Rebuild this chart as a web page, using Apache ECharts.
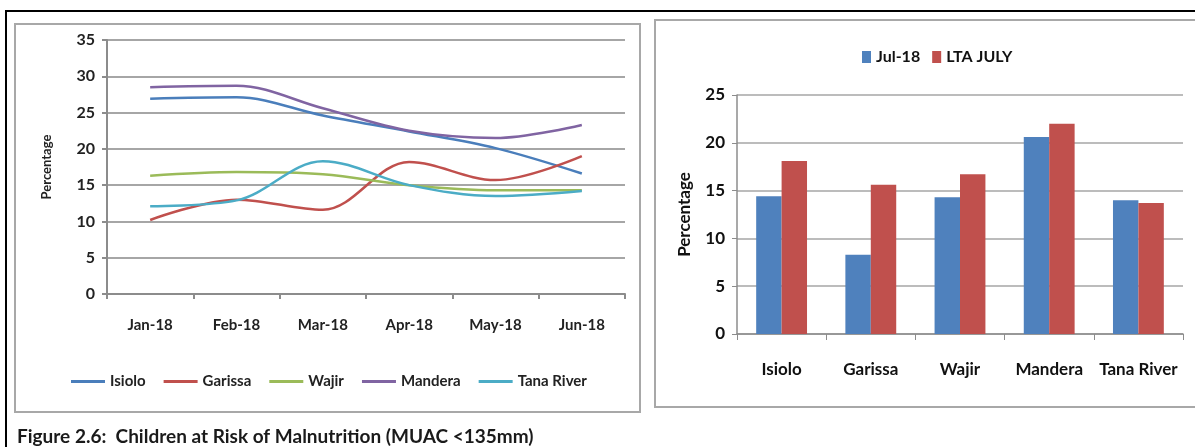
<!DOCTYPE html>
<html>
<head>
<meta charset="utf-8">
<script src="https://cdn.jsdelivr.net/npm/echarts@6/dist/echarts.min.js"></script>
<style>
  html, body { margin: 0; padding: 0; background: #fff; }
  #chart { width: 1195px; height: 447px; }
</style>
</head>
<body>
<div id="chart"></div>
<script>
// left chart: monthly trend
const months = ['Jan-18', 'Feb-18', 'Mar-18', 'Apr-18', 'May-18', 'Jun-18'];
const isiolo = [26.9, 27.1, 24.6, 22.4, 20.1, 16.6];
const garissa = [10.2, 13.0, 11.6, 18.2, 15.7, 19.0];
const wajir = [16.3, 16.8, 16.5, 15.0, 14.3, 14.3];
const mandera = [28.5, 28.7, 25.6, 22.5, 21.5, 23.3];
const tanaRiver = [12.1, 12.9, 18.3, 15.0, 13.5, 14.2];
const lineTicks = [0, 5, 10, 15, 20, 25, 30, 35];

// right chart: July comparison
const counties = ['Isiolo', 'Garissa', 'Wajir', 'Mandera', 'Tana River'];
const jul18 = [14.4, 8.3, 14.3, 20.6, 14.0];
const ltaJuly = [18.1, 15.6, 16.7, 22.0, 13.7];
const barTicks = [0, 5, 10, 15, 20, 25];

const font = "Lato, 'Liberation Sans', sans-serif";

const lineSeries = [
  { name: 'Isiolo', data: isiolo, color: '#4a7ebb' },
  { name: 'Garissa', data: garissa, color: '#c0504d' },
  { name: 'Wajir', data: wajir, color: '#9bbb59' },
  { name: 'Mandera', data: mandera, color: '#8064a2' },
  { name: 'Tana River', data: tanaRiver, color: '#4bacc6' }
];

const chart = echarts.init(document.getElementById('chart'));

const option = {
  animation: false,
  textStyle: { fontFamily: font },
  title: {
    text: 'Figure 2.6:  Children at Risk of Malnutrition (MUAC <135mm)',
    left: 12,
    top: 422,
    textStyle: { fontSize: 19, fontWeight: 'bold', color: '#1a1a1a', fontFamily: font }
  },
  graphic: [
    { type: 'rect', shape: { x: 6, y: 11, width: 1200, height: 450 },
      style: { fill: 'none', stroke: '#000', lineWidth: 2 } },
    { type: 'rect', shape: { x: 15, y: 24, width: 625, height: 388 },
      style: { fill: 'none', stroke: '#a8a8a8', lineWidth: 2 } },
    { type: 'rect', shape: { x: 655, y: 20, width: 560, height: 387 },
      style: { fill: 'none', stroke: '#a8a8a8', lineWidth: 2 } }
  ],
  legend: [
    {
      data: lineSeries.map(s => s.name),
      left: 66,
      top: 369,
      icon: 'rect',
      itemWidth: 34,
      itemHeight: 3,
      itemGap: 18,
      textStyle: { fontSize: 15, fontWeight: 'bold', color: '#222', fontFamily: font }
    },
    {
      data: ['Jul-18', 'LTA JULY'],
      left: 857,
      top: 44,
      icon: 'rect',
      itemWidth: 9,
      itemHeight: 12,
      itemGap: 12,
      textStyle: { fontSize: 16, fontWeight: 'bold', color: '#111', fontFamily: font }
    }
  ],
  grid: [
    { left: 107, top: 40, width: 518, height: 254 },
    { left: 737, top: 95, width: 446, height: 239 }
  ],
  xAxis: [
    {
      gridIndex: 0,
      type: 'category',
      data: months,
      axisLine: { lineStyle: { color: '#8c8c8c', width: 2 } },
      axisTick: { show: true, interval: 0, length: 5, lineStyle: { color: '#8c8c8c', width: 2 } },
      axisLabel: { interval: 0, margin: 24, fontSize: 15, fontWeight: 'bold', color: '#222' }
    },
    {
      gridIndex: 1,
      type: 'category',
      data: counties,
      axisLine: { lineStyle: { color: '#8c8c8c', width: 1.5 } },
      axisTick: { show: true, interval: 0, length: 6, lineStyle: { color: '#8c8c8c' } },
      axisLabel: { interval: 0, margin: 27, fontSize: 17, fontWeight: 'bold', color: '#111' }
    }
  ],
  yAxis: [
    {
      gridIndex: 0,
      type: 'value',
      min: lineTicks[0],
      max: lineTicks[lineTicks.length - 1],
      interval: 5,
      name: 'Percentage',
      nameLocation: 'middle',
      nameRotate: 90,
      nameGap: 54,
      nameTextStyle: { fontSize: 13, fontWeight: 'bold', color: '#222', fontFamily: font },
      axisLine: { show: true, lineStyle: { color: '#8c8c8c', width: 2 } },
      axisTick: { show: true, length: 5, lineStyle: { color: '#8c8c8c', width: 2 } },
      axisLabel: { margin: 12, fontSize: 16, fontWeight: 'bold', color: '#222' },
      splitLine: { lineStyle: { color: '#a6a6a6', width: 2 } }
    },
    {
      gridIndex: 1,
      type: 'value',
      min: barTicks[0],
      max: barTicks[barTicks.length - 1],
      interval: 5,
      name: 'Percentage',
      nameLocation: 'middle',
      nameRotate: 90,
      nameGap: 44,
      nameTextStyle: { fontSize: 17, fontWeight: 'bold', color: '#111', fontFamily: font },
      axisLine: { show: true, lineStyle: { color: '#8c8c8c', width: 1.5 } },
      axisTick: { show: true, length: 5, lineStyle: { color: '#8c8c8c' } },
      axisLabel: { margin: 12, fontSize: 17, fontWeight: 'bold', color: '#111' },
      splitLine: { lineStyle: { color: '#a6a6a6', width: 1.5 } }
    }
  ],
  series: lineSeries.map(s => ({
    name: s.name,
    type: 'line',
    xAxisIndex: 0,
    yAxisIndex: 0,
    data: s.data,
    smooth: 0.35,
    showSymbol: false,
    color: s.color,
    lineStyle: { color: s.color, width: 2.5 }
  })).concat([
    {
      name: 'Jul-18',
      type: 'bar',
      xAxisIndex: 1,
      yAxisIndex: 1,
      data: jul18,
      color: '#4f81bd',
      barGap: '0%',
      barCategoryGap: '43%'
    },
    {
      name: 'LTA JULY',
      type: 'bar',
      xAxisIndex: 1,
      yAxisIndex: 1,
      data: ltaJuly,
      color: '#c0504d',
      barGap: '0%',
      barCategoryGap: '43%'
    }
  ])
};

chart.setOption(option);
</script>
</body>
</html>
